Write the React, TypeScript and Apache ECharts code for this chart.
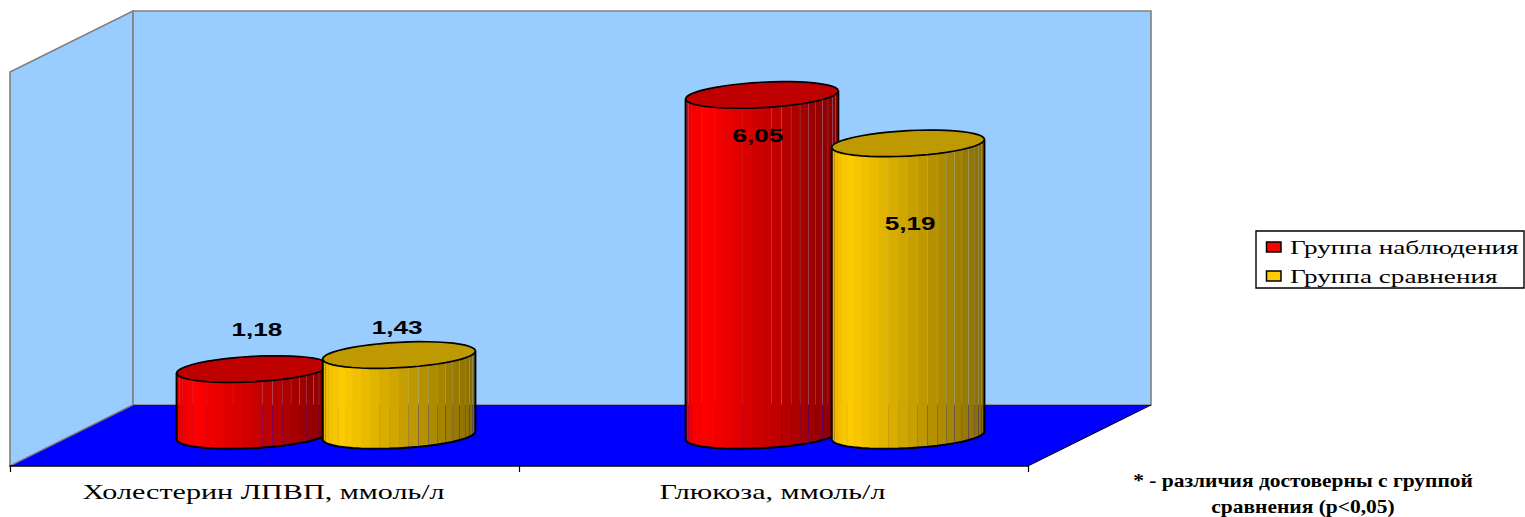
import React, { useEffect, useRef } from "react";
import * as echarts from "echarts";

const categories = ["Холестерин ЛПВП, ммоль/л", "Глюкоза, ммоль/л"];
const observationValues = [1.18, 6.05];
const comparisonValues = [1.43, 5.19];
const seriesNames = ["Группа наблюдения", "Группа сравнения"];
const footnoteLines = ["* - различия достоверны с группой", "сравнения (p<0,05)"];

const W = 1525;
const H = 517;
const GRID = { left: 10, top: 72, width: 1018, height: 394 };
const DEPTH = { x: 123, y: -61 };
const MID = { x: DEPTH.x / 2, y: DEPTH.y / 2 };
const WALL = "#99CCFF";
const FLOOR = "#0000FF";
const GREY = "#808080";
const SERIF = "'Liberation Serif', serif";
const SANS = "'Liberation Sans', Arial, sans-serif";

const RED = { rgb: [255, 0, 0], cap: "#BF0000" };
const YELLOW = { rgb: [255, 204, 0], cap: "#BF9900" };

// manual placement of each value label relative to the top of its cylinder
const observationNudges = [-39, 41];
const comparisonNudges = [-27, 81];
const labelXNudges = [[4, -4], [-2, 2]];

function shade(rgb: number[], t: number) {
  let f;
  if (t < 0.12) f = 0.9 + (t / 0.12) * 0.1;
  else f = 1 - ((t - 0.12) / 0.88) * 0.47;
  return `rgb(${rgb.map((c) => Math.round(c * f)).join(",")})`;
}

function makeCylinderSeries(name: string, values: number[], side: number, look: any, nudges: number[], xNudgeIdx: number) {
  return {
    type: "custom",
    name,
    silent: true,
    z: 3 + xNudgeIdx,
    data: values.map((v, i) => [i, v]),
    renderItem: (_p: any, api: any) => {
      const i = api.value(0);
      const v = api.value(1);
      const band = api.size([1, 0])[0];
      const a = band * 0.15;
      const b = 12.7;
      const s = 4;
      const base = api.coord([i, 0]);
      const top = api.coord([i, v]);
      const cx = base[0] + MID.x + side * band * 0.1435;
      const by = base[1] + MID.y;
      const ty = top[1] + MID.y;
      const pt = (t: number, cy: number) => [cx + a * Math.cos(t), cy + b * Math.sin(t) - s * Math.cos(t)];
      const n = 24;
      const children: any[] = [];
      for (let k = 0; k < n; k++) {
        const t1 = Math.PI - (k / n) * Math.PI;
        const t2 = Math.PI - ((k + 1) / n) * Math.PI;
        const p1 = pt(t1, ty);
        const p2 = pt(t2, ty);
        const q1 = pt(t1, by);
        const q2 = pt(t2, by);
        const mid = ((p1[0] + p2[0]) / 2 - (cx - a)) / (2 * a);
        const gap = k < 2 || (mid > 0.5 && k < n - 1) ? 0.18 : -0.4;
        children.push({
          type: "polygon",
          shape: { points: [p1, [p2[0] - gap, p2[1]], [q2[0] - gap, q2[1]], q1] },
          style: { fill: shade(look.rgb, mid), stroke: "none" },
        });
      }
      const arc: number[][] = [pt(Math.PI, ty)];
      for (let k = 0; k <= n; k++) arc.push(pt(Math.PI - (k / n) * Math.PI, by));
      arc.push(pt(0, ty));
      children.push({ type: "polyline", shape: { points: arc }, style: { fill: "none", stroke: "#000", lineWidth: 2 } });
      const cap: number[][] = [];
      for (let k = 0; k < 2 * n; k++) cap.push(pt((k / n) * Math.PI, ty));
      children.push({ type: "polygon", shape: { points: cap }, style: { fill: look.cap, stroke: "#000", lineWidth: 1.7 } });
      children.push({
        type: "text",
        x: cx + labelXNudges[xNudgeIdx][i],
        y: ty + nudges[i],
        scaleX: 1.45,
        style: {
          text: v.toFixed(2).replace(".", ","),
          fontFamily: SANS,
          fontWeight: "bold",
          fontSize: 18,
          fill: "#000",
          align: "center",
          verticalAlign: "middle",
        },
      });
      return { type: "group", children };
    },
  };
}

const wallSeries = {
  type: "custom",
  name: "walls",
  silent: true,
  z: 1,
  data: [[0, 0]],
  renderItem: (p: any) => {
    const { x, y, width, height } = p.coordSys;
    const r = x + width;
    const bot = y + height;
    const dx = DEPTH.x;
    const dy = DEPTH.y;
    const grey = { stroke: GREY, lineWidth: 1.6 };
    return {
      type: "group",
      children: [
        { type: "polygon", shape: { points: [[x, y], [x + dx, y + dy], [x + dx, bot + dy], [x, bot]] }, style: { fill: WALL, ...grey } },
        { type: "polygon", shape: { points: [[x + dx, y + dy], [r + dx, y + dy], [r + dx, bot + dy], [x + dx, bot + dy]] }, style: { fill: WALL, ...grey } },
        { type: "polygon", shape: { points: [[x + dx, bot + dy], [r + dx, bot + dy], [r, bot], [x, bot]] }, style: { fill: FLOOR, stroke: "none" } },
        { type: "line", shape: { x1: x, y1: bot, x2: x + dx, y2: bot + dy }, style: { stroke: GREY, lineWidth: 1.2 } },
        { type: "line", shape: { x1: r, y1: bot, x2: r + dx, y2: bot + dy }, style: { stroke: "#000", lineWidth: 1 } },
      ],
    };
  },
};

const categoryLabelSeries = {
  type: "custom",
  name: "categoryLabels",
  silent: true,
  z: 6,
  data: categories.map((_, i) => [i, 0]),
  renderItem: (_p: any, api: any) => {
    const i = api.value(0);
    const c = api.coord([i, 0]);
    return {
      type: "text",
      x: c[0] - 1,
      y: c[1] + 26,
      scaleX: 1.505,
      style: {
        text: categories[i],
        fontFamily: SERIF,
        fontSize: 20,
        fill: "#000",
        align: "center",
        verticalAlign: "middle",
      },
    };
  },
};

const legendTextScale = 1.51;
const legendGraphic = [
  { type: "rect", shape: { x: 1256, y: 231, width: 268, height: 57 }, style: { fill: "#fff", stroke: "#000", lineWidth: 1.4 } },
  { type: "rect", shape: { x: 1266.5, y: 242, width: 14.5, height: 10 }, style: { fill: "#FF0000", stroke: "#000", lineWidth: 1.5 } },
  { type: "rect", shape: { x: 1266.5, y: 271, width: 14.5, height: 10 }, style: { fill: "#FFCC00", stroke: "#000", lineWidth: 1.5 } },
  ...seriesNames.map((name, i) => ({
    type: "text",
    x: 1290,
    y: 247.5 + i * 29,
    scaleX: legendTextScale,
    style: { text: name, fontFamily: SERIF, fontSize: 18, fill: "#000", align: "left", verticalAlign: "middle" },
  })),
];

const footnoteGraphic = footnoteLines.map((line, i) => ({
  type: "text",
  x: 1303,
  y: 480 + i * 26,
  scaleX: 1.13,
  style: { text: line, fontFamily: SERIF, fontWeight: "bold", fontSize: 19, fill: "#000", align: "center", verticalAlign: "middle" },
}));

export default function App() {
  const ref = useRef<HTMLDivElement>(null);
  useEffect(() => {
    document.body.style.margin = "0";
    const chart = echarts.init(ref.current!, null, { renderer: "svg" });
    chart.setOption({
      animation: false,
      backgroundColor: "#fff",
      grid: { left: GRID.left, top: GRID.top, width: GRID.width, height: GRID.height, containLabel: false },
      xAxis: {
        type: "category",
        data: categories,
        z: 5,
        axisLine: { show: true, lineStyle: { color: "#000", width: 1.6 } },
        axisTick: { show: true, length: 6, lineStyle: { color: "#000", width: 1.2 } },
        axisLabel: { show: false },
      },
      yAxis: { type: "value", min: 0, max: 7, show: false, splitLine: { show: false } },
      series: [
        wallSeries,
        makeCylinderSeries(seriesNames[0], observationValues, -1, RED, observationNudges, 0),
        makeCylinderSeries(seriesNames[1], comparisonValues, 1, YELLOW, comparisonNudges, 1),
        categoryLabelSeries,
      ],
      graphic: [...legendGraphic, ...footnoteGraphic],
    });
    return () => chart.dispose();
  }, []);
  return <div ref={ref} style={{ position: "absolute", left: 0, top: 0, width: W, height: H }} />;
}
